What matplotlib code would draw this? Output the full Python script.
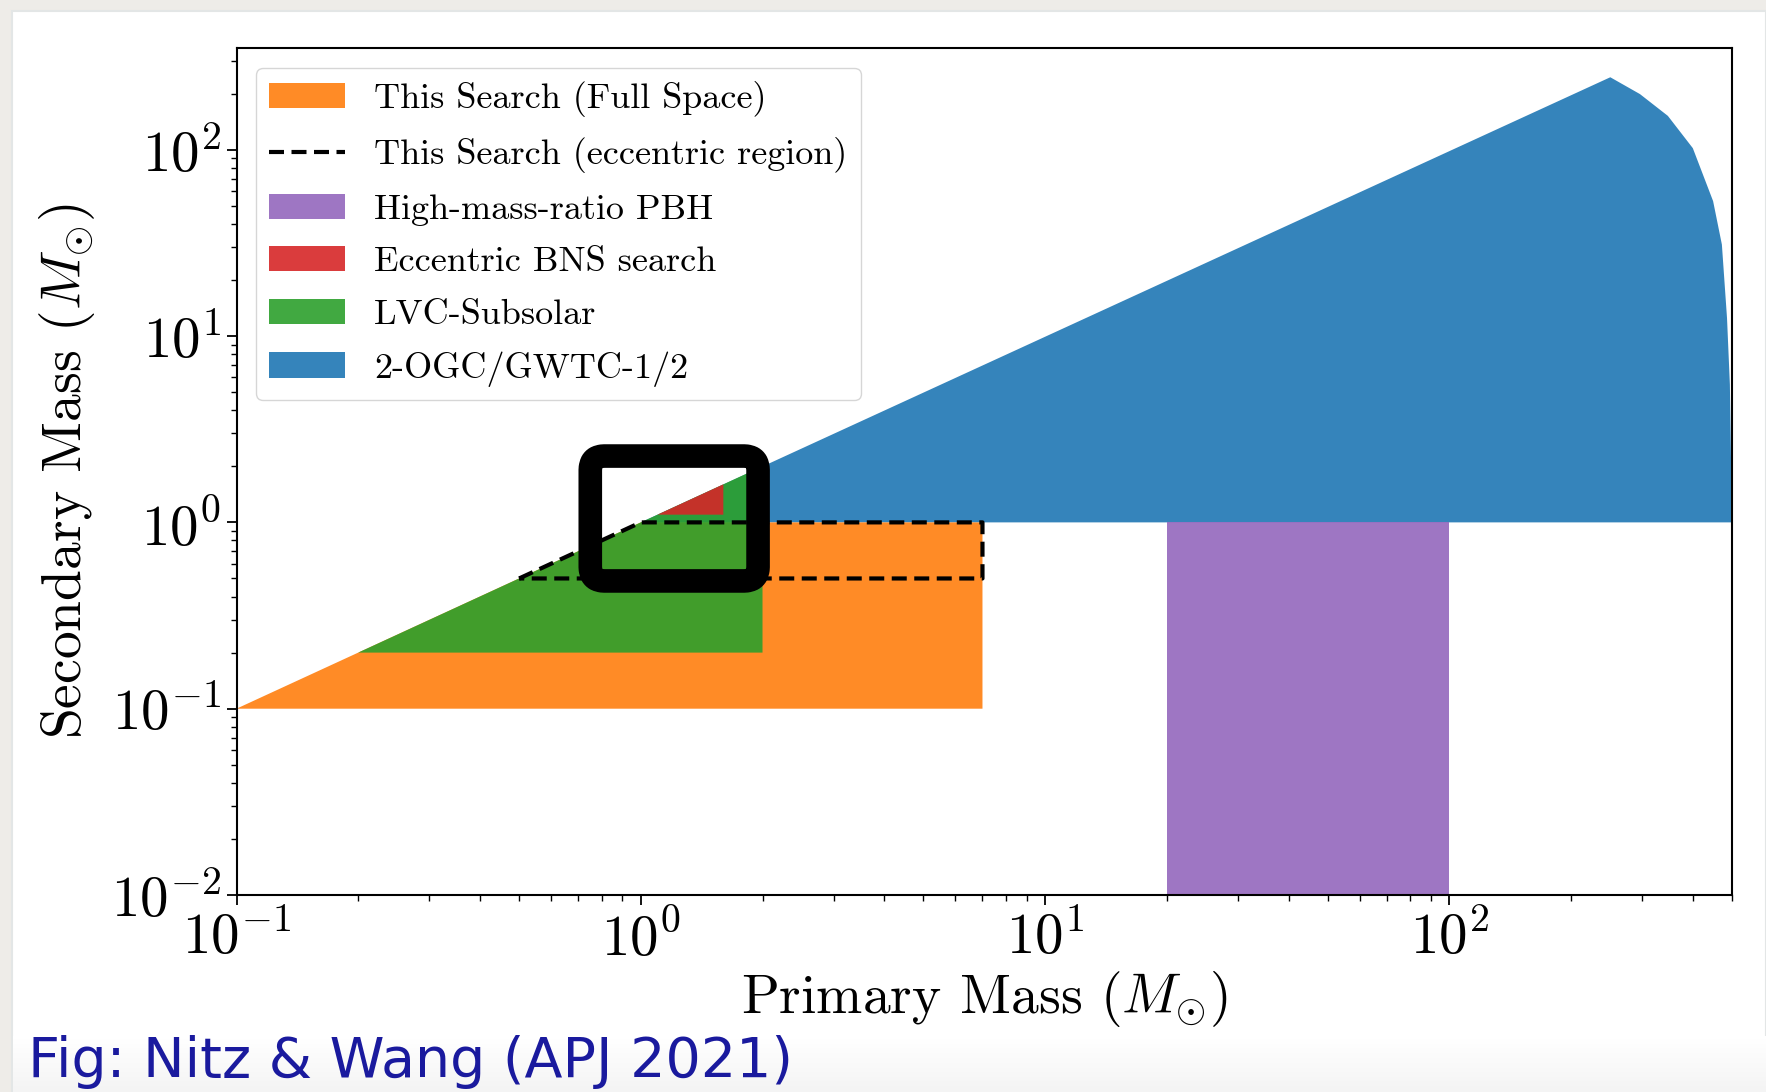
import matplotlib
matplotlib.use("Agg")
import matplotlib.pyplot as plt
from matplotlib.patches import Polygon, Rectangle, Patch, FancyBboxPatch
from matplotlib.lines import Line2D
from matplotlib.transforms import IdentityTransform
import numpy as np

plt.rcParams['font.family'] = 'serif'
plt.rcParams['font.serif'] = ['cmr10']
plt.rcParams['mathtext.fontset'] = 'cm'
plt.rcParams['axes.formatter.use_mathtext'] = True

# ---- data (solar masses) ----
full_m1 = [0.1, 1.0, 7.0, 7.0]
full_m2 = [0.1, 1.0, 1.0, 0.1]

ecc_m1 = [0.5, 1.0, 7.0, 7.0, 0.5, 0.5]
ecc_m2 = [0.5, 1.0, 1.0, 0.5, 0.5, 0.5]

pbh_m1 = [20, 100, 100, 20]
pbh_m2 = [0.01, 0.01, 1.0, 1.0]

bns_m1 = [1.1, 1.6, 1.6]
bns_m2 = [1.1, 1.6, 1.1]

lvc_m1 = [0.2, 2.0, 2.0]
lvc_m2 = [0.2, 2.0, 0.2]

ogc_m1 = [1.0, 250, 296, 347, 400, 449, 472, 486, 494, 500, 500]
ogc_m2 = [1.0, 245, 199, 152, 102, 53, 31, 12.5, 5.5, 1.0, 1.0]

highlight_m1 = [0.75, 1.95]
highlight_m2 = [0.485, 2.27]

labels = ["This Search (Full Space)", "This Search (eccentric region)",
          "High-mass-ratio PBH", "Eccentric BNS search", "LVC-Subsolar",
          "2-OGC/GWTC-1/2"]
colors = ['tab:orange', 'k', 'tab:purple', 'tab:red', 'tab:green', 'tab:blue']
ALPHA = 0.9

W, H = 1766, 1092
fig = plt.figure(figsize=(W / 100, H / 100), dpi=100)
fig.patch.set_facecolor('#eeece8')
fig.add_artist(Rectangle((12 / W, 0), 1 - 12 / W, 1 - 11 / H, transform=fig.transFigure,
                         facecolor='white', edgecolor='#e3e6e6', lw=1.5, zorder=0))
# soft grey gradient at the bottom of the screenshot
grad = np.linspace(1.0, 0.955, 60)
band_h = 55 / H
for i, g in enumerate(grad):
    fig.add_artist(Rectangle((13 / W, band_h * (1 - (i + 1) / len(grad))), 1 - 13 / W,
                             band_h / len(grad) + 0.0005, transform=fig.transFigure,
                             facecolor=(g, g, g), edgecolor='none', zorder=0.5))

ax = fig.add_axes([236.5 / W, 1 - 895 / H, (1732 - 236.5) / W, (895 - 48.4) / H])
ax.set_xscale('log')
ax.set_yscale('log')
ax.set_xlim(0.1, 500)
ax.set_ylim(0.01, 350)

def poly(m1, m2, color, z):
    p = Polygon(np.column_stack([m1, m2]), closed=True, facecolor=color,
                edgecolor='none', alpha=ALPHA, zorder=z)
    ax.add_patch(p)

poly(ogc_m1, ogc_m2, colors[5], 1)
poly(full_m1, full_m2, colors[0], 2)
poly(pbh_m1, pbh_m2, colors[2], 2)
poly(lvc_m1, lvc_m2, colors[4], 3)
poly(bns_m1, bns_m2, colors[3], 4)
ax.plot(ecc_m1, ecc_m2, color='k', ls='--', lw=3, dashes=(3.6, 1.8), zorder=5)

# hand-drawn highlight box (rounded, positioned from data coordinates)
(x0, y0) = ax.transData.transform((highlight_m1[0], highlight_m2[0]))
(x1, y1) = ax.transData.transform((highlight_m1[1], highlight_m2[1]))
box = FancyBboxPatch((x0, y0), x1 - x0, y1 - y0,
                     boxstyle="round,pad=0,rounding_size=14",
                     transform=IdentityTransform(), facecolor='none',
                     edgecolor='black', lw=17, joinstyle='round', zorder=6)
ax.add_artist(box)

for s in ax.spines.values():
    s.set_linewidth(1.5)
    s.set_zorder(7)
ax.tick_params(which='major', direction='out', length=7, width=1.3, labelsize=41, pad=4)
ax.tick_params(which='minor', direction='out', length=4.5, width=1.0)
ax.set_xticks([0.1, 1, 10, 100])
ax.set_yticks([0.01, 0.1, 1, 10, 100])

ax.set_xlabel(r"Primary Mass $(M_{\odot})$", fontsize=40, labelpad=2)
ax.set_ylabel(r"Secondary Mass $(M_{\odot})$", fontsize=40, labelpad=10)

handles = [Patch(facecolor=colors[0], alpha=ALPHA),
           Line2D([], [], color='k', ls='--', lw=3, dashes=(3.6, 1.8)),
           Patch(facecolor=colors[2], alpha=ALPHA),
           Patch(facecolor=colors[3], alpha=ALPHA),
           Patch(facecolor=colors[4], alpha=ALPHA),
           Patch(facecolor=colors[5], alpha=ALPHA)]
leg = ax.legend(handles, labels, loc='upper left', fontsize=26, labelspacing=0.56,
                handlelength=2.1, handleheight=0.7, handletextpad=0.8,
                borderpad=0.38, borderaxespad=0.53, fancybox=True, framealpha=0.8,
                edgecolor='#cccccc')
leg.set_zorder(8)

fig.text(28 / W, 1 - 1077 / H, "Fig: Nitz & Wang (APJ 2021)", fontsize=40,
         color='#1a1a9e', family='DejaVu Sans', ha='left', va='baseline')

fig.savefig("out.png", dpi=100, facecolor=fig.get_facecolor())
